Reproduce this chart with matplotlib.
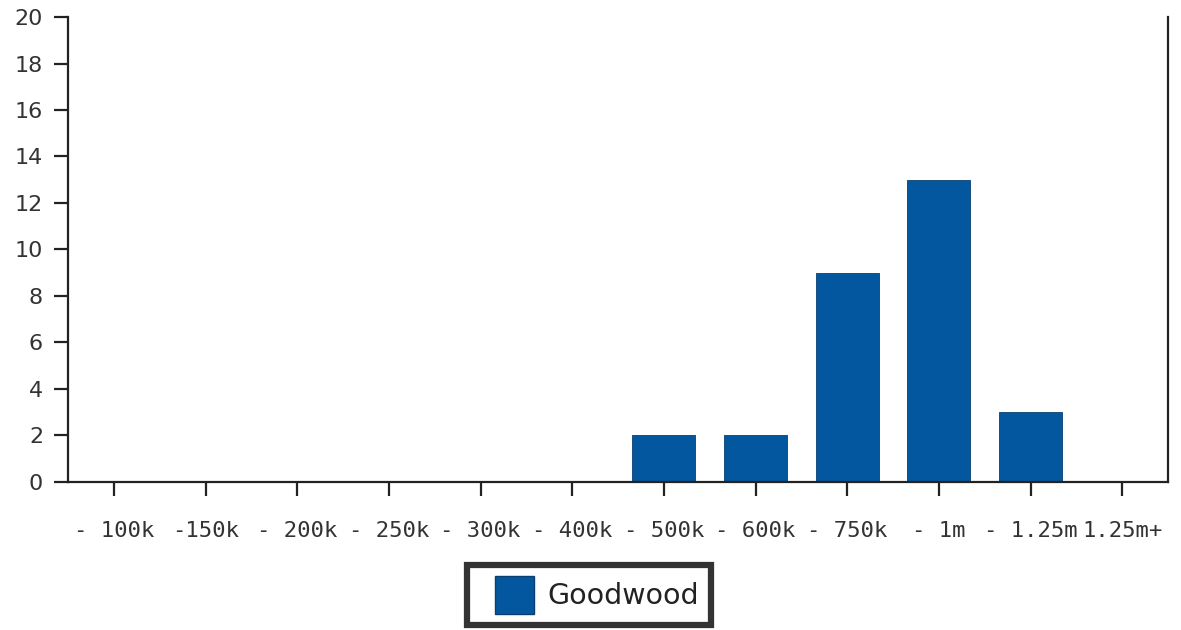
import matplotlib
matplotlib.use("Agg")
import matplotlib.pyplot as plt
from matplotlib.patches import Patch, Rectangle
from matplotlib.legend_handler import HandlerPatch

categories = ["- 100k", "-150k", "- 200k", "- 250k", "- 300k", "- 400k",
              "- 500k", "- 600k", "- 750k", "- 1m", "- 1.25m", "1.25m+"]
values = [0, 0, 0, 0, 0, 0, 2, 2, 9, 13, 3, 0]
series_name = "Goodwood"
bar_color = "#02579e"

plt.rcParams['font.family'] = ['DejaVu Sans']
fig = plt.figure(figsize=(11.81, 6.30), dpi=100)
ax = fig.add_axes([0.0576, 0.235, 0.9314, 0.738])

x = list(range(len(categories)))
ax.bar(x, values, width=0.69, color=bar_color, edgecolor="#0a3f70", linewidth=0.6)

ax.set_xlim(-0.5, len(categories) - 0.5)
ax.set_ylim(0, 20)
ax.set_yticks(range(0, 21, 2))
ax.set_xticks(x)
ax.set_xticklabels(categories, fontsize=16, color="#333333", family=['DejaVu Sans Mono'])
ax.tick_params(axis='x', length=10, width=1.6, pad=18, direction='out', colors="#222222", labelcolor="#333333")
ax.tick_params(axis='y', length=10, width=1.6, pad=8, direction='out', labelsize=16, colors="#222222", labelcolor="#333333")

ax.spines['top'].set_visible(False)
for s in ['left', 'bottom', 'right']:
    ax.spines[s].set_linewidth(1.6)
    ax.spines[s].set_color("#222222")


def square_right(legend, orig_handle, xdescent, ydescent, width, height, fontsize):
    side = height
    return Rectangle((-xdescent + width - side, -ydescent), side, side)


handle = Patch(facecolor=bar_color, edgecolor="#0a3f70", label=series_name)
leg = fig.legend(handles=[handle], loc='center', bbox_to_anchor=(0.4985, 0.0556),
                 fontsize=20.5, frameon=True, fancybox=False, handlelength=1.95,
                 handleheight=1.68, borderpad=0.4, handletextpad=0.5,
                 handler_map={Patch: HandlerPatch(patch_func=square_right)})
leg.get_frame().set_edgecolor("black")
leg.get_frame().set_linewidth(4.5)
for t in leg.get_texts():
    t.set_color("#222222")

fig.savefig("out.png", dpi=100)
